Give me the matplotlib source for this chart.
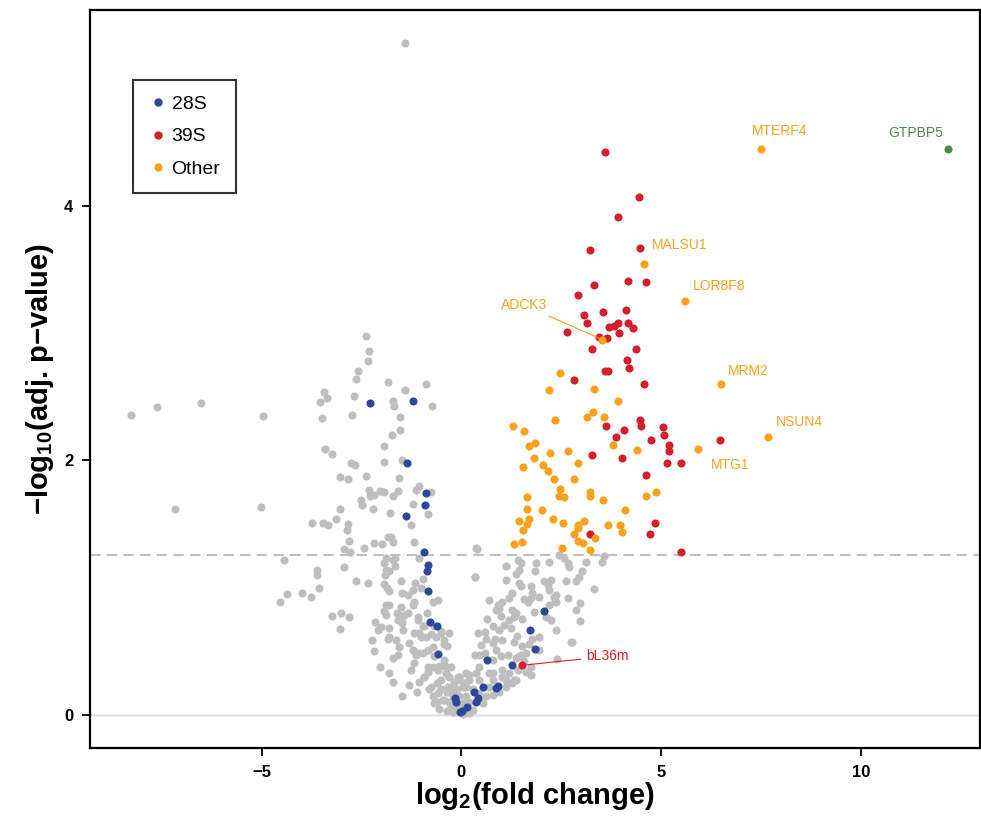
import matplotlib
matplotlib.use("Agg")
import matplotlib.pyplot as plt
from matplotlib.lines import Line2D

plt.rcParams['font.family'] = ['Liberation Sans', 'DejaVu Sans']
plt.rcParams['mathtext.fontset'] = 'custom'
plt.rcParams['mathtext.rm'] = 'Liberation Sans:bold'
plt.rcParams['mathtext.bf'] = 'Liberation Sans:bold'

# log2 fold change / -log10 adj p
grey_pts = [
    (-1.4, 5.28), (-8.28, 2.36), (-7.63, 2.42), (-6.52, 2.45), (-4.96, 2.35),
    (-7.18, 1.62), (-5.01, 1.63), (-4.44, 1.22),
    (-3.43, 2.54), (-3.53, 2.46), (-3.36, 2.49), (-3.48, 2.33), (-3.41, 2.09),
    (-3.23, 2.05), (-3.75, 1.51), (-3.47, 1.51), (-3.34, 1.49), (-3.14, 1.54),
    (-2.39, 2.98), (-2.31, 2.86), (-2.34, 2.78), (-2.59, 2.70), (-2.63, 2.64),
    (-1.83, 2.62), (-0.88, 2.60), (-1.40, 2.55), (-2.70, 2.51), (-1.72, 2.47),
    (-1.68, 2.43), (-0.73, 2.43), (-2.74, 2.36), (-1.53, 2.34), (-1.54, 2.24),
    (-1.73, 2.20), (-1.94, 2.11), (-1.93, 1.99), (-1.48, 2.00), (-2.76, 1.98),
    (-2.66, 1.96), (-2.38, 1.88), (-3.05, 1.87), (-2.84, 1.85), (-1.55, 1.86),
    (-1.07, 1.80), (-1.13, 1.77), (-0.75, 1.755), (-2.31, 1.77), (-2.28, 1.72),
    (-2.18, 1.73), (-2.04, 1.76), (-1.93, 1.75), (-1.58, 1.76), (-1.70, 1.72),
    (-2.52, 1.69), (-2.48, 1.65), (-2.21, 1.62), (-1.22, 1.66), (-0.83, 1.58),
    (-3.04, 1.62), (-1.78, 1.59), (-2.83, 1.50), (-2.87, 1.45), (-1.27, 1.49),
    (-2.82, 1.37), (-2.43, 1.315), (-2.20, 1.35), (-1.99, 1.345), (-1.83, 1.395),
    (-1.76, 1.40), (-1.72, 1.355), (-1.18, 1.36), (-2.94, 1.30), (-2.78, 1.28),
    (-1.88, 1.23), (-1.65, 1.235), (-1.05, 1.23),
    (-2.94, 1.165), (-3.62, 1.14), (-3.61, 1.10), (-3.57, 0.995), (-3.76, 0.93),
    (-3.98, 0.955), (-4.37, 0.95), (-4.53, 0.885), (-2.63, 1.055), (-2.33, 1.04),
    (-3.24, 0.78), (-3.01, 0.80), (-2.81, 0.77), (-3.03, 0.675), (-1.93, 1.19),
    (-1.72, 1.22), (-1.65, 1.17), (-1.88, 1.14), (-1.92, 1.10), (-1.80, 1.13),
    (-1.51, 1.055), (-1.16, 1.04), (-0.97, 1.07), (-1.93, 1.03), (-1.87, 1.00),
    (-1.80, 0.97), (-1.49, 0.955), (-1.34, 0.945), (-1.22, 0.98), (-1.01, 0.995),
    (-1.18, 0.89), (-0.72, 0.89), (-0.58, 0.90), (-0.86, 0.80), (-1.88, 0.86),
    (-1.80, 0.86), (-1.93, 0.82), (-1.88, 0.785), (-1.61, 0.80), (-1.43, 0.785),
    (-1.59, 0.745), (-1.48, 0.72), (-1.47, 0.67), (-2.15, 0.73), (-2.09, 0.67),
    (-2.01, 0.69), (-1.80, 0.68), (-2.23, 0.59), (-2.20, 0.50), (-1.84, 0.595),
    (-1.80, 0.615), (-1.63, 0.59), (-1.57, 0.535), (-1.59, 0.47), (-1.72, 0.45),
    (-1.09, 0.745), (-0.97, 0.70), (-1.05, 0.64), (-0.88, 0.615), (-0.76, 0.635),
    (-0.63, 0.615), (-0.51, 0.66), (-0.43, 0.59), (-0.30, 0.645), (-0.37, 0.54),
    (-1.32, 0.565), (-1.22, 0.51), (-1.13, 0.47), (-0.97, 0.485), (-0.84, 0.51),
    (-0.70, 0.53), (-0.68, 0.46), (-2.03, 0.375), (-1.80, 0.33), (-1.72, 0.255),
    (-1.49, 0.15), (-1.11, 0.18), (-1.30, 0.235), (-1.05, 0.255), (-0.93, 0.30),
    (-0.84, 0.34), (-0.72, 0.38), (-0.55, 0.385), (-0.40, 0.385), (-0.38, 0.33),
    (-0.30, 0.30), (-0.07, 0.30), (-0.18, 0.255),
    (-1.51, 0.85), (-1.22, 0.86), (-1.51, 0.745), (-1.34, 0.80), (-1.09, 0.77),
    (-0.93, 0.695), (-0.68, 0.695), (-0.51, 0.64), (-0.43, 0.56), (-1.18, 0.64),
    (-1.01, 0.615), (-1.18, 0.405), (-1.26, 0.355), (-1.09, 0.485), (-0.84, 0.38),
    (-0.59, 0.355), (-0.43, 0.43), (-0.26, 0.38), (-0.09, 0.30), (0.07, 0.25),
    (-0.51, 0.275), (-0.34, 0.22), (-0.18, 0.17), (-0.43, 0.12), (-0.59, 0.17),
    (-0.68, 0.09), (-0.26, 0.065), (-0.01, 0.04), (-0.76, 0.22), (-0.93, 0.30),
    (-0.80, 0.20), (-0.70, 0.15), (-0.60, 0.25), (-0.50, 0.20), (-0.45, 0.12),
    (-0.35, 0.18), (-0.30, 0.10), (-0.25, 0.22), (-0.20, 0.15), (-0.15, 0.06),
    (-0.10, 0.20), (-0.05, 0.08), (-0.60, 0.10), (-0.55, 0.05), (-0.35, 0.03),
    (-0.20, 0.02), (0.05, 0.01), (0.10, 0.06), (0.20, 0.10),
    (0.37, 1.315), (0.38, 1.30), (0.33, 1.08), (0.45, 0.47),
    (3.56, 1.25), (3.52, 1.20), (3.33, 0.99), (2.97, 0.88), (2.88, 0.825),
    (2.97, 0.74), (2.77, 0.575), (2.38, 0.94), (2.34, 0.895), (2.20, 0.865),
    (0.35, 1.08), (1.12, 1.17), (1.41, 1.22), (1.49, 1.19), (1.45, 1.14),
    (1.37, 1.11), (1.87, 1.19), (1.85, 1.13), (2.20, 1.20), (2.45, 1.26),
    (2.58, 1.23), (2.66, 1.19), (2.70, 1.165), (3.12, 1.20), (3.03, 1.13),
    (2.95, 1.085), (1.12, 1.06), (1.45, 1.035), (1.49, 1.01), (1.74, 1.01),
    (1.78, 0.955), (2.08, 1.05), (2.16, 1.02), (2.24, 1.06), (2.20, 0.98),
    (2.62, 1.05), (2.66, 0.915), (2.87, 1.055), (1.28, 0.955), (1.20, 0.915),
    (1.03, 0.89), (0.95, 0.84), (0.87, 0.825), (0.70, 0.90), (1.58, 0.91),
    (1.66, 0.89), (2.33, 0.93), (2.37, 0.89), (1.28, 0.825), (1.37, 0.80),
    (1.83, 0.81), (2.12, 0.77), (1.95, 0.93), (1.74, 0.915), (0.91, 0.865),
    (1.33, 0.77), (1.53, 0.755), (1.20, 0.745), (1.08, 0.705), (0.78, 0.695),
    (0.95, 0.67), (2.24, 0.745), (2.37, 0.67), (1.95, 0.615), (1.78, 0.60),
    (0.41, 0.64), (0.62, 0.60), (0.78, 0.565), (1.03, 0.59), (1.33, 0.575),
    (1.53, 0.54), (1.70, 0.56), (1.95, 0.51), (1.62, 0.485), (2.39, 0.44),
    (2.74, 0.575), (0.33, 0.47), (0.58, 0.485), (0.87, 0.51), (0.99, 0.46),
    (1.16, 0.47), (1.37, 0.445), (1.49, 0.47), (1.58, 0.42), (1.74, 0.38),
    (1.74, 0.315), (-0.05, 0.30), (0.20, 0.315), (0.12, 0.22), (0.45, 0.275),
    (0.70, 0.33), (0.78, 0.275), (1.03, 0.30), (1.20, 0.33), (1.37, 0.275),
    (1.62, 0.34), (1.41, 0.35), (-0.05, 0.145), (0.03, 0.09), (0.62, 0.145),
    (0.78, 0.155), (0.20, 0.015), (0.95, 0.18), (1.12, 0.22), (1.33, 0.275),
    (0.03, 0.22), (0.20, 0.275), (0.37, 0.33), (0.28, 0.20), (0.12, 0.145),
    (0.45, 0.17), (0.70, 0.22), (0.53, 0.09), (0.28, 0.04), (0.78, 0.33),
    (1.03, 0.355), (1.12, 0.275), (1.28, 0.25), (1.45, 0.46), (0.78, 0.43),
    (0.45, 0.38), (0.12, 0.33), (-0.05, 0.275), (0.60, 0.65), (0.50, 0.55),
    (0.65, 0.75), (0.85, 0.60), (1.00, 0.78), (1.25, 0.68), (1.40, 0.62),
]

blue_pts = [
    (-2.29, 2.45), (-1.21, 2.47), (-1.36, 1.98), (-0.875, 1.74), (-0.91, 1.65),
    (-1.39, 1.56), (-0.93, 1.28), (-0.825, 1.18), (-0.86, 1.13), (-0.825, 0.97),
    (-0.775, 0.73), (-0.61, 0.70), (-0.58, 0.48), (-0.16, 0.13), (-0.125, 0.10),
    (0.13, 0.065), (-0.025, 0.026), (0.325, 0.18), (0.37, 0.105), (2.08, 0.82),
    (1.72, 0.665), (1.85, 0.52), (0.64, 0.43), (1.26, 0.395), (0.53, 0.22),
    (0.87, 0.21), (0.93, 0.23), (0.41, 0.13), (0.02, 0.03),
]

red_pts = [
    (3.59, 4.42), (4.46, 4.07), (3.93, 3.91), (3.23, 3.65), (4.48, 3.67),
    (3.31, 3.38), (4.18, 3.41), (4.62, 3.40), (2.91, 3.30), (3.08, 3.14),
    (3.54, 3.17), (4.13, 3.18), (3.15, 3.08), (3.70, 3.05), (3.82, 3.06),
    (3.93, 3.08), (4.18, 3.08), (4.30, 3.04), (2.65, 3.01), (3.95, 3.00),
    (3.45, 2.97), (3.64, 2.96), (3.28, 2.875), (4.37, 2.875), (4.14, 2.79),
    (4.20, 2.73), (3.60, 2.70), (3.66, 2.70), (2.81, 2.63), (4.57, 2.60),
    (4.48, 2.32), (4.50, 2.27), (3.62, 2.27), (4.07, 2.24), (3.88, 2.18),
    (5.06, 2.26), (5.08, 2.20), (4.76, 2.16), (6.48, 2.16), (5.19, 2.12),
    (5.19, 2.07), (3.26, 2.04), (4.03, 2.02), (5.14, 1.98), (5.50, 1.98),
    (4.63, 1.885), (4.84, 1.505), (4.73, 1.42), (3.21, 1.425), (5.51, 1.28),
    (1.53, 0.39),
]

orange_pts = [
    (4.58, 3.54), (5.60, 3.25), (3.53, 2.95), (7.50, 4.45), (6.50, 2.60),
    (7.68, 2.18), (5.93, 2.09),
    (2.47, 2.69), (2.20, 2.55), (3.32, 2.56), (3.93, 2.47), (3.30, 2.38),
    (3.14, 2.34), (3.58, 2.34), (2.35, 2.32), (1.29, 2.27), (1.58, 2.23),
    (1.85, 2.14), (1.69, 2.11), (3.80, 2.12), (4.40, 2.08), (2.23, 2.06),
    (2.67, 2.07), (1.83, 2.02), (2.92, 1.98), (1.54, 1.95), (2.05, 1.96),
    (2.18, 1.92), (2.33, 1.85), (2.83, 1.85), (2.48, 1.775), (2.45, 1.72),
    (2.56, 1.71), (3.22, 1.75), (3.23, 1.72), (4.63, 1.72), (4.87, 1.75),
    (1.64, 1.71), (3.55, 1.69), (1.64, 1.62), (2.03, 1.61), (4.11, 1.61),
    (1.45, 1.52), (1.70, 1.54), (1.64, 1.50), (2.30, 1.54), (2.54, 1.51),
    (1.54, 1.45), (3.07, 1.52), (2.91, 1.49), (2.93, 1.47), (3.68, 1.49),
    (3.97, 1.49), (4.01, 1.44), (2.83, 1.42), (2.92, 1.37), (3.04, 1.35),
    (3.35, 1.39), (1.31, 1.345), (1.52, 1.36), (2.52, 1.31), (3.23, 1.295),
]

green_pts = [(12.18, 4.45)]

# gene labels: name, text x, text y, colour key, alignment
labels = [
    ("MTERF4", 7.98, 4.59, "orange", "center"),
    ("GTPBP5", 11.38, 4.57, "green", "center"),
    ("MALSU1", 4.78, 3.69, "orange", "left"),
    ("LOR8F8", 5.80, 3.37, "orange", "left"),
    ("MRM2", 6.68, 2.70, "orange", "left"),
    ("NSUN4", 7.88, 2.30, "orange", "left"),
    ("MTG1", 6.25, 1.96, "orange", "left"),
]

colors = {"grey": "#bebebe", "blue": "#2f469b", "red": "#d21f2b",
          "orange": "#f8a21c", "green": "#4f8a4e"}

fig = plt.figure(figsize=(9.81, 8.17), dpi=100)
ax = fig.add_axes([0.0917, 0.0845, 0.907, 0.9033])

ax.axhline(0, color="#e6e6e6", lw=2, zorder=0)
ax.axhline(1.26, color="#bfbfbf", lw=1.5, ls=(0, (5, 3)), zorder=0)

for pts, key in [(grey_pts, "grey"), (blue_pts, "blue"), (red_pts, "red"),
                 (orange_pts, "orange"), (green_pts, "green")]:
    xs = [p[0] for p in pts]
    ys = [p[1] for p in pts]
    ax.scatter(xs, ys, s=34, color=colors[key], linewidths=0, zorder=2)

for name, tx, ty, key, ha in labels:
    ax.text(tx, ty, name, color=colors[key], fontsize=10, ha=ha, va="center")

ax.annotate("ADCK3", xy=(3.53, 2.95), xytext=(2.15, 3.22), color=colors["orange"],
            fontsize=10, ha="right", va="center",
            arrowprops=dict(arrowstyle="-", color=colors["orange"], lw=0.8,
                            shrinkA=2, shrinkB=3))
ax.annotate("bL36m", xy=(1.53, 0.39), xytext=(3.13, 0.46), color=colors["red"],
            fontsize=10, ha="left", va="center",
            arrowprops=dict(arrowstyle="-", color=colors["red"], lw=0.8,
                            shrinkA=2, shrinkB=3))

ax.set_xlim(-9.3, 12.98)
ax.set_ylim(-0.26, 5.54)
ax.set_xticks([-5, 0, 5, 10])
ax.set_yticks([0, 2, 4])
for s in ax.spines.values():
    s.set_linewidth(1.6)
ax.tick_params(direction="out", length=6, width=1.3, labelsize=12, pad=6)
for lab in ax.get_xticklabels() + ax.get_yticklabels():
    lab.set_fontweight("bold")

ax.set_xlabel("log$_2$(fold change)", fontsize=21, fontweight="bold", labelpad=0)
ax.set_ylabel("\u2212log$_{10}$(adj. p\u2212value)", fontsize=21,
              fontweight="bold", labelpad=6)

handles = [Line2D([], [], marker="o", ls="", color=colors[k], markersize=5)
           for k in ["blue", "red", "orange"]]
leg = ax.legend(handles, ["28S", "39S", "Other"], loc="upper left",
                bbox_to_anchor=(0.048, 0.905), borderaxespad=0, fontsize=14,
                frameon=True, fancybox=False, edgecolor="black",
                handletextpad=0.2, handlelength=1.0, borderpad=0.8,
                labelspacing=0.75)
leg.get_frame().set_linewidth(1.5)

fig.savefig("out.png", dpi=100)
